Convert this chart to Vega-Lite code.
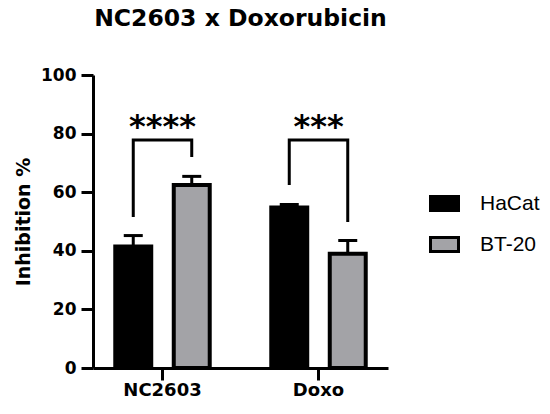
{
  "$schema": "https://vega.github.io/schema/vega-lite/v6.json",
  "width": 295,
  "height": 293,
  "autosize": {"type": "none"},
  "padding": {"left": 93, "top": 75, "right": 162, "bottom": 46},
  "background": "white",
  "title": {
    "text": "NC2603 x Doxorubicin",
    "font": "DejaVu Sans",
    "fontSize": 23.5,
    "fontWeight": "bold",
    "color": "black",
    "anchor": "middle",
    "frame": "group",
    "offset": 36
  },
  "datasets": {
    "bars": [
      {"group": "NC2603", "cell": "HaCat", "value": 41.5, "upper": 45.2},
      {"group": "NC2603", "cell": "BT-20", "value": 62.5, "upper": 65.4},
      {"group": "Doxo", "cell": "HaCat", "value": 54.8, "upper": 55.8},
      {"group": "Doxo", "cell": "BT-20", "value": 39.0, "upper": 43.5}
    ],
    "brackets": [
      {"bracket": "a", "group": "NC2603", "cell": "HaCat", "by": 51.5, "ord": 1},
      {"bracket": "a", "group": "NC2603", "cell": "HaCat", "by": 77.8, "ord": 2},
      {"bracket": "a", "group": "NC2603", "cell": "BT-20", "by": 77.8, "ord": 3},
      {"bracket": "a", "group": "NC2603", "cell": "BT-20", "by": 72.0, "ord": 4},
      {"bracket": "b", "group": "Doxo", "cell": "HaCat", "by": 62.5, "ord": 1},
      {"bracket": "b", "group": "Doxo", "cell": "HaCat", "by": 77.8, "ord": 2},
      {"bracket": "b", "group": "Doxo", "cell": "BT-20", "by": 77.8, "ord": 3},
      {"bracket": "b", "group": "Doxo", "cell": "BT-20", "by": 49.8, "ord": 4}
    ],
    "stars": [
      {"group": "NC2603", "label": "****", "sy": 78.8},
      {"group": "Doxo", "label": "***", "sy": 78.8}
    ]
  },
  "encoding": {
    "x": {
      "field": "group",
      "type": "nominal",
      "sort": ["NC2603", "Doxo"],
      "scale": {"paddingInner": 0.3, "paddingOuter": 0.0955},
      "axis": {"title": null}
    }
  },
  "layer": [
    {
      "data": {"name": "bars"},
      "mark": {"type": "bar", "stroke": "black", "strokeWidth": 4, "strokeJoin": "miter"},
      "encoding": {
        "xOffset": {"field": "cell", "type": "nominal", "scale": {"domain": ["HaCat", "BT-20"], "paddingInner": 0.385, "paddingOuter": 0.126}},
        "y": {
          "field": "value",
          "type": "quantitative",
          "scale": {"domain": [0, 100], "nice": false},
          "axis": {"title": "Inhibition %", "values": [0, 20, 40, 60, 80, 100]}
        },
        "color": {
          "field": "cell",
          "type": "nominal",
          "scale": {"domain": ["HaCat", "BT-20"], "range": ["#000000", "#a3a3a7"]},
          "legend": {
            "title": null,
            "orient": "none",
            "legendX": 336,
            "legendY": 113
          }
        }
      }
    },
    {
      "data": {"name": "bars"},
      "mark": {"type": "rule", "color": "black", "strokeWidth": 3},
      "encoding": {
        "xOffset": {"field": "cell", "type": "nominal", "scale": {"domain": ["HaCat", "BT-20"]}},
        "y": {"field": "value", "type": "quantitative"},
        "y2": {"field": "upper"}
      }
    },
    {
      "data": {"name": "bars"},
      "mark": {"type": "tick", "color": "black", "size": 19, "thickness": 3, "opacity": 1},
      "encoding": {
        "xOffset": {"field": "cell", "type": "nominal", "scale": {"domain": ["HaCat", "BT-20"]}},
        "y": {"field": "upper", "type": "quantitative"}
      }
    },
    {
      "data": {"name": "brackets"},
      "mark": {"type": "line", "color": "black", "strokeWidth": 3, "strokeJoin": "miter", "strokeCap": "butt"},
      "encoding": {
        "xOffset": {"field": "cell", "type": "nominal", "scale": {"domain": ["HaCat", "BT-20"]}},
        "y": {"field": "by", "type": "quantitative"},
        "detail": {"field": "bracket"},
        "order": {"field": "ord", "type": "quantitative"}
      }
    },
    {
      "data": {"name": "stars"},
      "mark": {"type": "text", "font": "DejaVu Sans", "fontWeight": "bold", "fontSize": 32, "color": "black", "baseline": "alphabetic", "align": "center"},
      "encoding": {
        "y": {"field": "sy", "type": "quantitative"},
        "text": {"field": "label"}
      }
    }
  ],
  "config": {
    "view": {"stroke": null},
    "axis": {
      "grid": false,
      "domainColor": "black",
      "domainWidth": 3,
      "tickColor": "black",
      "tickWidth": 3,
      "tickSize": 12,
      "labelColor": "black",
      "labelFont": "DejaVu Sans",
      "labelFontWeight": "bold",
      "titleFont": "DejaVu Sans",
      "titleFontWeight": "bold",
      "titleColor": "black"
    },
    "axisY": {"labelFontSize": 17, "labelPadding": 5, "titleFontSize": 19, "titlePadding": 7},
    "axisX": {"labelFontSize": 18, "labelPadding": 1, "labelAngle": 0},
    "legend": {
      "padding": 0,
      "labelFont": "Liberation Sans",
      "labelFontSize": 21,
      "labelColor": "black",
      "labelOffset": 20,
      "rowPadding": 12,
      "symbolType": "M-1,-0.5H1V0.5H-1Z",
      "symbolSize": 784,
      "symbolStrokeColor": "black",
      "symbolStrokeWidth": 3,
      "symbolOpacity": 1
    }
  }
}
